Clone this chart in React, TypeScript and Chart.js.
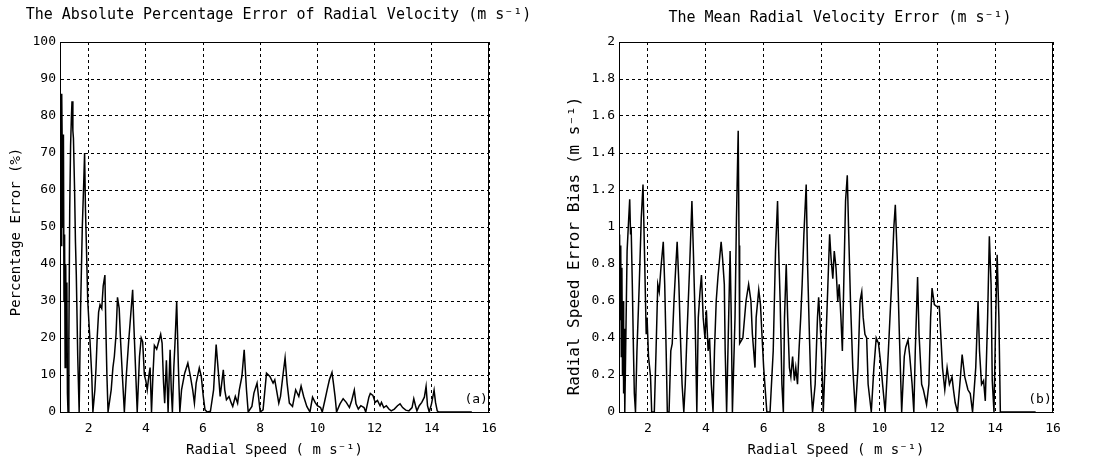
import React, { useEffect, useRef } from "react";
import { Chart, registerables } from "chart.js";

Chart.register(...registerables);

// ---------- data ----------
const speedA = [
  1.0, 1.02, 1.04, 1.06, 1.08, 1.1, 1.12, 1.14, 1.16, 1.18, 1.2, 1.22, 1.24, 1.26, 1.28, 1.31, 1.34, 1.37, 1.4, 1.42,
  1.45, 1.47, 1.51, 1.54, 1.57, 1.62, 1.67, 1.72, 1.78, 1.83, 1.86, 1.89, 1.92, 1.97, 2.05, 2.11, 2.15, 2.22, 2.26, 2.3,
  2.35, 2.4, 2.46, 2.51, 2.57, 2.6, 2.64, 2.68, 2.79, 2.85, 2.9, 2.96, 3.01, 3.07, 3.12, 3.18, 3.25, 3.32, 3.4, 3.45,
  3.54, 3.58, 3.65, 3.7, 3.78, 3.84, 3.89, 3.95, 4.0, 4.05, 4.11, 4.15, 4.2, 4.25, 4.3, 4.38, 4.45, 4.52, 4.57, 4.62,
  4.66, 4.72, 4.78, 4.82, 4.85, 4.89, 4.93, 4.98, 5.02, 5.08, 5.14, 5.19, 5.25, 5.36, 5.47, 5.56, 5.64, 5.7, 5.76, 5.87,
  5.94, 6.01, 6.07, 6.15, 6.26, 6.37, 6.46, 6.54, 6.6, 6.71, 6.76, 6.82, 6.91, 6.99, 7.04, 7.13, 7.21, 7.27, 7.36, 7.44,
  7.52, 7.58, 7.71, 7.78, 7.89, 7.94, 8.0, 8.1, 8.22, 8.34, 8.45, 8.51, 8.57, 8.65, 8.71, 8.79, 8.87, 8.94, 9.02, 9.13,
  9.24, 9.35, 9.43, 9.52, 9.63, 9.74, 9.83, 9.92, 10.0, 10.11, 10.17, 10.26, 10.34, 10.42, 10.51, 10.56, 10.62, 10.67, 10.79, 10.9,
  11.01, 11.12, 11.2, 11.29, 11.35, 11.43, 11.52, 11.63, 11.69, 11.8, 11.85, 11.94, 12.02, 12.1, 12.19, 12.24, 12.32, 12.41, 12.5, 12.58,
  12.69, 12.8, 12.89, 12.98, 13.09, 13.2, 13.31, 13.37, 13.43, 13.48, 13.56, 13.65, 13.74, 13.8, 13.85, 13.91, 13.99, 14.08, 14.13, 14.19,
  14.24, 15.4,
];
const errorA = [
  62, 80, 45, 86, 70, 50, 75, 30, 48, 12, 40, 15, 35, 5, 0, 20, 55, 72, 80, 84,
  76, 74, 60, 46, 37, 15, 0, 28, 50, 62, 70, 55, 46, 30, 19, 10, 0, 6, 12, 20,
  27, 29, 28, 34, 37, 24, 10, 0, 6, 12, 15, 21, 31, 28, 19, 10, 0, 10, 19, 24,
  33, 24, 10, 0, 15, 20, 19, 10, 8.5, 6, 10, 12, 0, 10, 18, 17, 19, 21, 18.6, 8,
  2.4, 14, 0, 10, 16.8, 6, 0, 12, 18.6, 29.9, 12, 0, 6, 10.5, 13.2, 9.6, 6, 2.4, 7.8, 11.9,
  9.6, 4.2, 0.6, 0, 0.2, 6, 18.2, 10.5, 4.2, 11.4, 6, 3.3, 4.2, 2.4, 1.5, 4.2, 2.4, 6, 9.6, 16.8,
  6, 0, 1.5, 5.1, 7.8, 4.2, 0, 0.6, 10.5, 9.6, 7.8, 8.7, 6, 2.4, 4.2, 9.6, 14.6, 7.8, 2.4, 1.5,
  6, 4.2, 7, 4.2, 1.5, 0, 4, 2.6, 1.7, 1.2, 0, 3.1, 6, 8.7, 10.7, 7.8, 4, 0, 2.2, 3.6,
  2.6, 1.2, 3.1, 5.9, 2.2, 0.8, 1.7, 1.2, 0, 4, 5, 4.5, 2.6, 3.1, 1.7, 2.6, 1.2, 1.7, 0.8, 0.3,
  0.8, 1.7, 2.2, 1.2, 0.5, 0.3, 1.2, 3.6, 1.7, 0.3, 1.7, 2.6, 4, 6.9, 1.7, 0, 2.2, 5.9, 2.6, 0.3,
  0, 0,
];

const speedB = [
  1.0, 1.02, 1.04, 1.06, 1.08, 1.1, 1.12, 1.14, 1.16, 1.18, 1.2, 1.23, 1.28, 1.33, 1.37, 1.4, 1.42, 1.46, 1.5, 1.53,
  1.57, 1.62, 1.7, 1.77, 1.83, 1.88, 1.94, 1.97, 2.02, 2.09, 2.13, 2.22, 2.28, 2.34, 2.39, 2.45, 2.53, 2.58, 2.63, 2.67,
  2.73, 2.79, 2.84, 2.9, 2.96, 3.01, 3.07, 3.12, 3.18, 3.24, 3.29, 3.35, 3.44, 3.52, 3.57, 3.63, 3.69, 3.74, 3.8, 3.85,
  3.91, 3.97, 4.02, 4.08, 4.13, 4.19, 4.25, 4.3, 4.36, 4.42, 4.53, 4.58, 4.64, 4.67, 4.72, 4.79, 4.84, 4.88, 4.92, 5.01,
  5.06, 5.12, 5.15, 5.17, 5.28, 5.39, 5.48, 5.56, 5.61, 5.7, 5.74, 5.83, 5.89, 5.94, 6.0, 6.11, 6.22, 6.33, 6.41, 6.48,
  6.52, 6.57, 6.63, 6.68, 6.72, 6.78, 6.83, 6.89, 6.94, 7.0, 7.06, 7.11, 7.17, 7.22, 7.28, 7.33, 7.39, 7.47, 7.52, 7.58,
  7.63, 7.69, 7.78, 7.86, 7.9, 7.94, 8.0, 8.06, 8.14, 8.22, 8.28, 8.33, 8.39, 8.44, 8.5, 8.56, 8.61, 8.67, 8.72, 8.78,
  8.83, 8.89, 8.94, 9.0, 9.08, 9.17, 9.26, 9.33, 9.39, 9.44, 9.5, 9.56, 9.61, 9.72, 9.81, 9.89, 9.97, 10.06, 10.11, 10.2,
  10.31, 10.42, 10.5, 10.55, 10.62, 10.69, 10.77, 10.86, 10.91, 10.99, 11.05, 11.13, 11.19, 11.24, 11.32, 11.37, 11.46, 11.52, 11.63, 11.71,
  11.77, 11.82, 11.9, 11.98, 12.07, 12.12, 12.18, 12.26, 12.34, 12.42, 12.51, 12.56, 12.62, 12.7, 12.78, 12.86, 12.95, 13.06, 13.14, 13.22,
  13.33, 13.41, 13.46, 13.53, 13.6, 13.66, 13.74, 13.8, 13.86, 13.9, 13.96, 14.02, 14.07, 14.13, 14.18, 15.4,
];
const biasB = [
  0.6, 0.96, 0.5, 0.9, 0.3, 0.78, 0.2, 0.6, 0.1, 0.45, 0, 0.33, 0.87, 1.03, 1.15, 0.96, 1.0, 0.69, 0.33, 0.1,
  0, 0.33, 0.69, 1.05, 1.23, 0.87, 0.42, 0.51, 0.3, 0.19, 0, 0, 0.33, 0.69, 0.65, 0.78, 0.92, 0.69, 0.33, 0,
  0, 0.33, 0.37, 0.6, 0.78, 0.92, 0.69, 0.42, 0.15, 0, 0.15, 0.42, 0.78, 1.14, 0.87, 0.51, 0, 0.51, 0.65, 0.74,
  0.51, 0.4, 0.55, 0.33, 0.4, 0.15, 0, 0.33, 0.6, 0.73, 0.92, 0.83, 0.69, 0.33, 0, 0.51, 0.87, 0.51, 0, 0.51,
  1.05, 1.52, 0.9, 0.37, 0.4, 0.6, 0.69, 0.6, 0.42, 0.24, 0.51, 0.66, 0.58, 0.42, 0.24, 0, 0, 0.33, 0.87, 1.14,
  0.87, 0.6, 0.15, 0, 0.51, 0.8, 0.51, 0.24, 0.19, 0.3, 0.17, 0.24, 0.15, 0.33, 0.51, 0.69, 0.96, 1.23, 0.78, 0.42,
  0.15, 0, 0.15, 0.51, 0.62, 0.51, 0.33, 0, 0.33, 0.69, 0.96, 0.83, 0.72, 0.87, 0.78, 0.6, 0.69, 0.51, 0.33, 0.78,
  1.14, 1.28, 0.96, 0.6, 0.24, 0, 0.24, 0.6, 0.65, 0.51, 0.42, 0.4, 0.15, 0, 0.24, 0.4, 0.37, 0.24, 0.15, 0,
  0.33, 0.69, 1.0, 1.12, 0.82, 0.42, 0, 0.3, 0.35, 0.39, 0.3, 0.15, 0, 0.33, 0.73, 0.42, 0.15, 0.12, 0.04, 0.15,
  0.51, 0.67, 0.58, 0.57, 0.57, 0.42, 0.24, 0.12, 0.24, 0.15, 0.19, 0.12, 0.05, 0, 0.15, 0.31, 0.19, 0.12, 0.1, 0,
  0.24, 0.6, 0.33, 0.15, 0.17, 0.06, 0.51, 0.95, 0.69, 0.17, 0, 0.51, 0.85, 0.51, 0, 0,
];

const xTicks = [2, 4, 6, 8, 10, 12, 14, 16];
const yTicksA = [0, 10, 20, 30, 40, 50, 60, 70, 80, 90, 100];
const yTicksB = [0, 0.2, 0.4, 0.6, 0.8, 1, 1.2, 1.4, 1.6, 1.8, 2];

const titleA = "The Absolute Percentage Error of Radial Velocity (m s\u207B\u00B9)";
const titleB = "The Mean Radial Velocity Error (m s\u207B\u00B9)";
const xTitle = "Radial Speed ( m s\u207B\u00B9)";
const yTitleA = "Percentage Error (%)";
const yTitleB = "Radial Speed Error Bias (m s\u207B\u00B9)";

const MONO = "'DejaVu Sans Mono', monospace";

type PanelProps = {
  xs: number[];
  ys: number[];
  yTicks: number[];
  yMax: number;
  title: string;
  titleY: number;
  yTitle: string;
  yTitleSize: number;
  yTitleX: number;
  yTitleY: number;
  tag: string;
  tagY: number;
  left: number;
  width: number;
  yAxisWidth: number;
  padRight: number;
};

const framePlugin = {
  id: "frame",
  afterDatasetsDraw(chart: any, _args: any, opts: any) {
    const { ctx, chartArea } = chart;
    ctx.save();
    ctx.strokeStyle = "#000";
    ctx.lineWidth = 1;
    ctx.setLineDash([]);
    ctx.strokeRect(chartArea.left + 0.5, chartArea.top + 0.5, chartArea.right - chartArea.left - 1, chartArea.bottom - chartArea.top);
    ctx.fillStyle = "#000";
    ctx.textAlign = "center";
    ctx.textBaseline = "middle";
    if (opts.text) {
      const xs = chart.scales.x;
      const ys = chart.scales.y;
      ctx.font = "13px " + MONO;
      ctx.fillText(opts.text, xs.getPixelForValue(opts.x), ys.getPixelForValue(opts.y));
    }
    if (opts.title) {
      ctx.font = "15px " + MONO;
      ctx.fillText(opts.title, (chartArea.left + chartArea.right) / 2 + 4, opts.titleY);
    }
    if (opts.yTitle) {
      ctx.save();
      ctx.translate(opts.yTitleX, opts.yTitleY);
      ctx.rotate(-Math.PI / 2);
      ctx.font = opts.yTitleSize + "px " + MONO;
      ctx.fillText(opts.yTitle, 0, 0);
      ctx.restore();
    }
    ctx.restore();
  },
};

const fmt = (v: number) => String(Math.round(v * 10) / 10);

function Panel(p: PanelProps) {
  const ref = useRef<HTMLCanvasElement | null>(null);
  useEffect(() => {
    if (!ref.current) return;
    const data = p.xs.map((x, i) => ({ x, y: p.ys[i] }));
    const chart = new Chart(ref.current, {
      type: "line",
      data: {
        datasets: [
          {
            data,
            borderColor: "#000",
            borderWidth: 1.5,
            pointRadius: 0,
            tension: 0,
            fill: false,
          },
        ],
      },
      options: {
        animation: false,
        responsive: false,
        maintainAspectRatio: false,
        layout: { padding: { left: 0, right: p.padRight, top: 42, bottom: 0 } },
        plugins: {
          legend: { display: false },
          tooltip: { enabled: false },
          title: { display: false },
          frame: {
            text: p.tag,
            x: 15.55,
            y: p.tagY,
            title: p.title,
            titleY: p.titleY,
            yTitle: p.yTitle,
            yTitleX: p.yTitleX,
            yTitleY: p.yTitleY,
            yTitleSize: p.yTitleSize,
          },
        } as any,
        scales: {
          x: {
            type: "linear",
            min: 1,
            max: 16,
            afterBuildTicks: (s: any) => {
              s.ticks = xTicks.map((v) => ({ value: v }));
            },
            afterFit: (s: any) => {
              s.height = 51;
            },
            grid: { color: "#000", lineWidth: 1, drawTicks: false },
            border: { display: true, color: "#000", width: 1, dash: [3, 3] },
            ticks: {
              color: "#000",
              font: { family: MONO, size: 13 },
              padding: 9,
              maxRotation: 0,
              autoSkip: false,
              callback: (v: any) => fmt(Number(v)),
            },
            title: {
              display: true,
              text: xTitle,
              color: "#000",
              font: { family: MONO, size: 14 },
              padding: { top: 0, bottom: 4 },
            },
          },
          y: {
            type: "linear",
            min: 0,
            max: p.yMax,
            afterBuildTicks: (s: any) => {
              s.ticks = p.yTicks.map((v) => ({ value: v }));
            },
            afterFit: (s: any) => {
              s.width = p.yAxisWidth;
            },
            grid: { color: "#000", lineWidth: 1, drawTicks: false },
            border: { display: true, color: "#000", width: 1, dash: [3, 3] },
            ticks: {
              color: "#000",
              font: { family: MONO, size: 13 },
              padding: 4,
              autoSkip: false,
              callback: (v: any) => fmt(Number(v)),
            },
            title: { display: false },
          },
        },
      },
      plugins: [framePlugin],
    } as any);
    return () => chart.destroy();
  }, []);
  return (
    <div style={{ position: "absolute", left: p.left, top: 0, width: p.width, height: 463 }}>
      <canvas ref={ref} width={p.width} height={463} style={{ width: p.width, height: 463, display: "block" }} />
    </div>
  );
}

export default function App() {
  return (
    <div style={{ position: "fixed", left: 0, top: 0, width: 1093, height: 463, background: "#fff" }}>
      <Panel
        xs={speedA}
        ys={errorA}
        yTicks={yTicksA}
        yMax={100}
        title={titleA}
        titleY={15}
        yTitle={yTitleA}
        yTitleSize={14}
        yTitleX={16}
        yTitleY={232}
        tag="(a)"
        tagY={3.3}
        left={0}
        width={546}
        yAxisWidth={60}
        padRight={57}
      />
      <Panel
        xs={speedB}
        ys={biasB}
        yTicks={yTicksB}
        yMax={2}
        title={titleB}
        titleY={18}
        yTitle={yTitleB}
        yTitleSize={16}
        yTitleX={29}
        yTitleY={246}
        tag="(b)"
        tagY={0.066}
        left={546}
        width={547}
        yAxisWidth={73}
        padRight={40}
      />
    </div>
  );
}
